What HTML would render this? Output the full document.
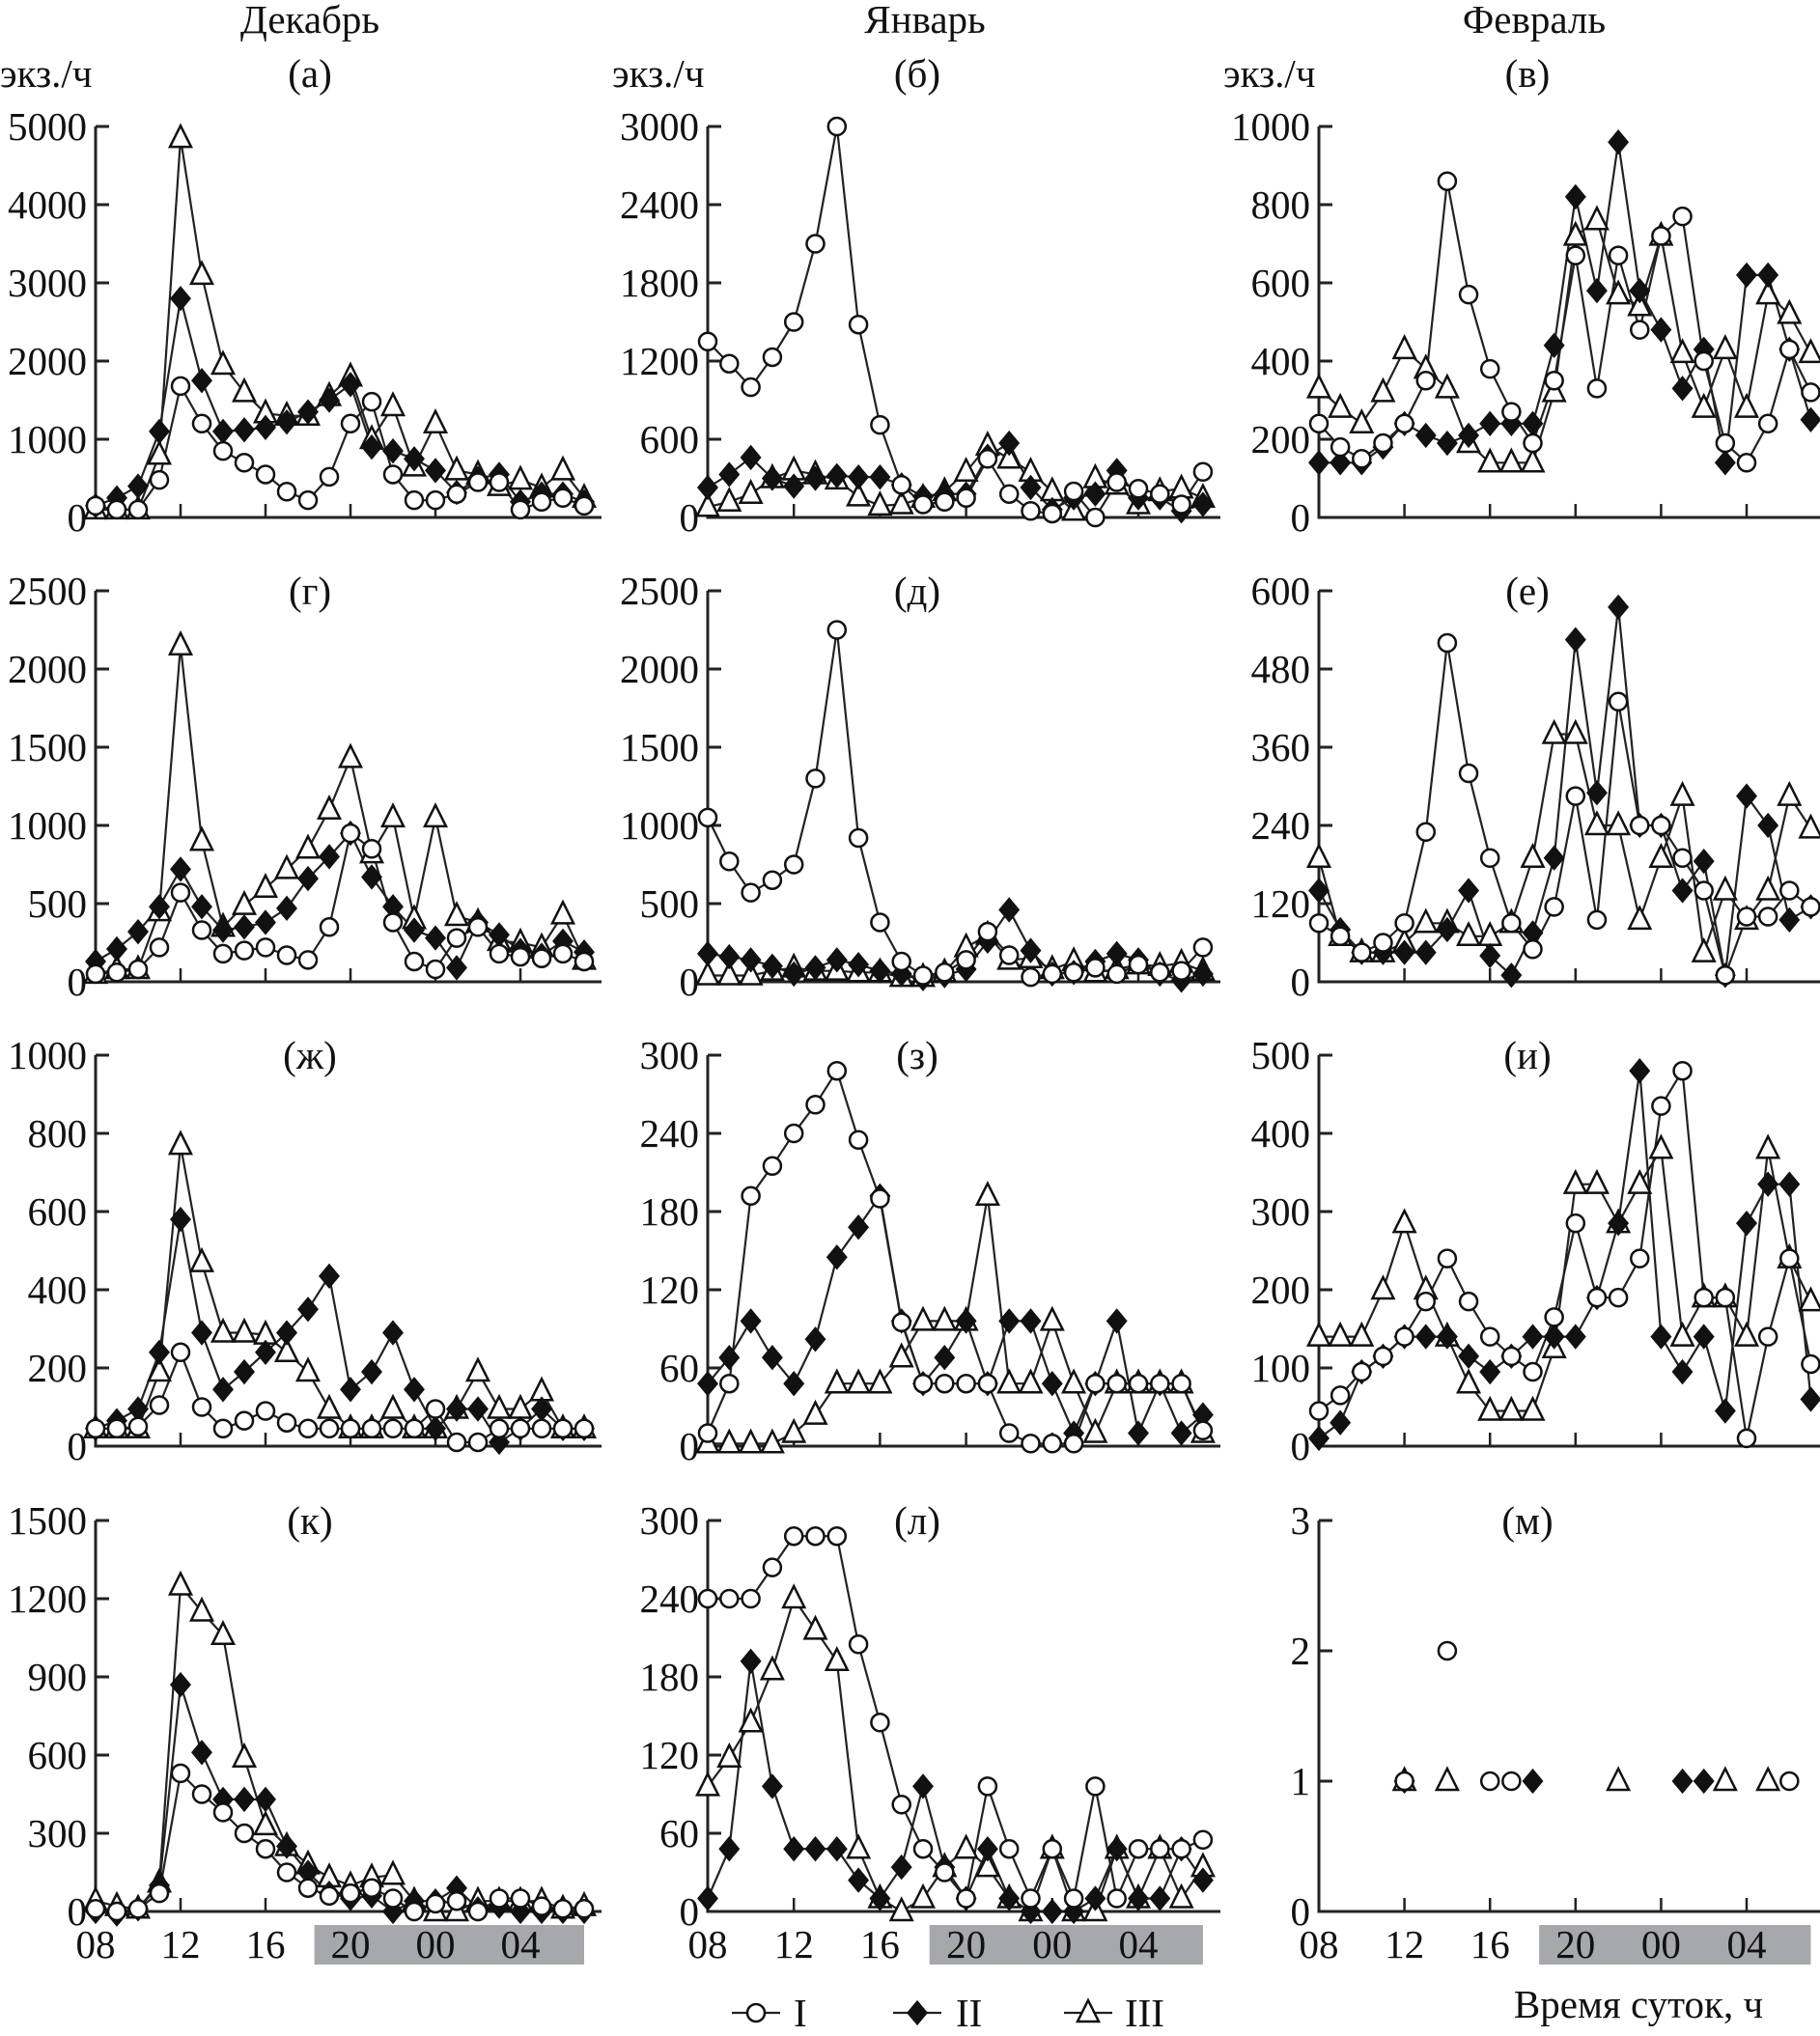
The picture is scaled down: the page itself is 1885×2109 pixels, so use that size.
<!DOCTYPE html>
<html><head><meta charset="utf-8"><style>
html,body{margin:0;padding:0;background:#fff;}
svg{display:block;font-family:"Liberation Serif",serif;}
</style></head><body>
<svg id="chart" width="1885" height="2109" viewBox="0 0 1885 2109" xmlns="http://www.w3.org/2000/svg"></svg>
<script>
const hours = ["08","09","10","11","12","13","14","15","16","17","18","19","20","21","22","23","00","01","02","03","04","05","06","07"];
const monthTitles = ["Декабрь","Январь","Февраль"];
const panelLabels = ["(а)","(б)","(в)","(г)","(д)","(е)","(ж)","(з)","(и)","(к)","(л)","(м)"];
const yMax = [5000,3000,1000,2500,2500,600,1000,300,500,1500,300,3];
const yStep = [1000,600,200,500,500,120,200,60,100,300,60,1];
const xTickLabels = ["08","12","16","20","00","04"];
const seriesNames = ["I","II","III"];
const N = null;
// panel a
const aI=[150,100,100,480,1680,1200,850,700,550,330,220,520,1200,1480,550,220,220,300,450,450,100,200,250,150];
const aII=[150,250,400,1100,2800,1750,1100,1120,1150,1220,1350,1500,1700,900,850,750,600,320,500,550,200,300,300,200];
const aIII=[100,100,100,800,4850,3100,1950,1600,1330,1300,1300,1550,1800,1000,1420,650,1200,600,550,400,480,380,600,250];
// panel b
const bI=[1350,1180,1000,1230,1500,2100,3000,1480,710,250,100,120,150,450,180,50,30,200,0,270,220,180,100,350];
const bII=[230,330,460,300,240,300,320,310,310,250,160,180,180,470,570,230,60,150,180,360,150,150,50,100];
const bIII=[80,120,180,300,360,330,290,160,90,100,150,200,350,550,450,350,200,50,300,250,100,200,220,150];
// panel v
const vI=[240,180,150,190,240,350,860,570,380,270,190,350,670,330,670,480,720,770,400,190,140,240,430,320];
const vII=[140,140,140,180,240,210,190,210,240,240,240,440,820,580,960,580,480,330,430,140,620,620,430,250];
const vIII=[330,280,240,320,430,380,330,190,140,140,140,320,720,760,570,540,720,420,280,430,280,570,520,420];
// panel g
const gI=[50,60,80,220,570,330,180,200,220,170,140,350,950,850,380,130,80,280,350,180,160,150,180,130];
const gII=[130,210,320,480,720,480,330,350,380,470,660,800,950,670,480,330,280,90,380,300,200,170,260,190];
const gIII=[50,80,80,450,2150,900,350,490,600,720,850,1100,1430,820,1050,400,1050,420,380,260,250,220,430,140];
// panel d
const dI=[1050,770,570,650,750,1300,2250,920,380,130,40,60,140,320,170,30,50,60,90,50,110,60,70,220];
const dII=[180,160,140,100,50,90,140,110,70,50,20,40,80,260,460,200,50,60,130,180,140,50,10,50];
const dIII=[40,40,40,70,90,70,70,60,60,30,30,60,220,300,140,150,80,130,60,80,110,100,120,70];
// panel e
const eI=[90,70,45,60,90,230,520,320,190,90,50,115,285,95,430,240,240,190,140,10,100,100,140,115];
const eII=[140,80,45,45,45,45,80,140,40,10,75,190,525,290,575,240,240,140,185,10,285,240,95,115];
const eIII=[190,70,45,45,60,90,90,70,70,90,190,380,380,240,240,95,190,285,45,140,95,140,285,235];
// panel zh
const zhI=[45,45,50,105,240,100,45,65,90,60,45,45,45,45,45,45,95,10,10,45,45,45,45,45];
const zhII=[45,65,95,240,580,290,145,190,240,290,350,435,145,190,290,145,45,95,95,10,45,95,45,45];
const zhIII=[45,45,45,190,770,470,290,290,285,240,190,95,45,45,95,45,45,95,190,95,95,140,45,45];
// panel z
const zI=[10,48,192,215,240,262,288,235,190,95,48,48,48,48,10,2,2,2,48,48,48,48,48,12];
const zII=[48,68,96,68,48,82,145,168,192,96,48,68,96,48,96,96,48,10,48,96,10,48,10,24];
const zIII=[2,2,2,2,10,24,48,48,48,68,96,96,96,192,48,48,96,48,10,48,48,48,48,10];
// panel i
const iI=[45,65,95,115,140,185,240,185,140,115,95,165,285,190,190,240,435,480,190,190,10,140,240,105];
const iII=[10,30,95,115,140,140,140,115,95,115,140,140,140,190,285,480,140,95,140,45,285,335,335,60];
const iIII=[140,140,140,200,285,200,140,80,45,45,45,125,335,335,285,335,380,140,190,190,140,380,240,185];
// panel k
const kI=[10,0,10,70,530,450,380,300,240,150,90,60,70,90,50,0,30,40,0,50,50,20,10,10];
const kII=[0,-10,10,100,870,610,430,430,430,250,150,70,50,60,0,40,40,90,10,20,0,0,0,0];
const kIII=[40,20,10,110,1250,1150,1060,590,330,250,180,130,100,130,140,40,0,0,40,40,40,40,10,20];
// panel l
const lI=[240,240,240,264,288,288,288,205,145,82,48,30,10,96,48,10,48,10,96,10,48,48,48,55];
const lII=[10,48,192,96,48,48,48,24,10,34,96,34,10,48,10,0,0,0,10,48,10,10,48,24];
const lIII=[96,118,145,185,240,216,192,48,10,0,10,34,48,34,10,0,48,0,0,48,10,48,10,34];
// panel m (points only)
const mI=[N,N,N,N,1,N,2,N,1,1,N,N,N,N,N,N,N,N,N,N,N,N,1,N];
const mII=[N,N,N,N,1,N,N,N,N,N,1,N,N,N,N,N,N,1,1,N,N,N,N,N];
const mIII=[N,N,N,N,1,N,1,N,N,N,N,N,N,N,1,N,N,N,N,1,N,1,N,N];

const panelData=[[aI,aII,aIII],[bI,bII,bIII],[vI,vII,vIII],[gI,gII,gIII],[dI,dII,dIII],[eI,eII,eIII],[zhI,zhII,zhIII],[zI,zII,zIII],[iI,iII,iIII],[kI,kII,kIII],[lI,lII,lIII],[mI,mII,mIII]];

const NS="http://www.w3.org/2000/svg";
const svg=document.getElementById('chart');
function mk(tag,attrs,parent){const e=document.createElementNS(NS,tag);for(const k in attrs)e.setAttribute(k,attrs[k]);(parent||svg).appendChild(e);return e;}

const colX0=[99,733,1366], colDx=[22,22.3,22.15], colEnd=[623,1264,1885];
const rowZero=[536,1017,1498,1980], plotH=405;
const titleX=[321,958,1589], labelX=[321,950,1582];
const FS=41;

monthTitles.forEach((t,c)=>{
  const e=mk('text',{x:titleX[c],y:34,'font-size':FS,'text-anchor':'middle',fill:'#111'});
  e.textContent=t;
  
  
  const u=mk('text',{x:colX0[c]-99,y:90,'font-size':FS,fill:'#111'});
  u.textContent='экз./ч';
  
  
});

function drawMarker(g,s,x,y){
  let m;
  if(s===0){m=mk('circle',{cx:x,cy:y,r:9,fill:'#fff',stroke:'#111','stroke-width':2.5},g);}
  else if(s===1){m=mk('polygon',{points:`${x},${y-12} ${x+10},${y} ${x},${y+12} ${x-10},${y}`,fill:'#111',stroke:'#111','stroke-width':1.5},g);}
  else {m=mk('polygon',{points:`${x},${y-13} ${x+11},${y+9} ${x-11},${y+9}`,fill:'#fff',stroke:'#111','stroke-width':2.5},g);}
  return m;
}

for(let p=0;p<12;p++){
  const r=Math.floor(p/3), c=p%3;
  const x0=colX0[c], dx=colDx[c], y0=rowZero[r];
  const xs=i=>x0+i*dx;
  const ys=v=>y0-v/yMax[p]*plotH;
  const g=mk('g',{});
  
  
  mk('path',{d:`M${x0},${y0-plotH} V${y0} H${colEnd[c]}`,fill:'none',stroke:'#222','stroke-width':3},g);
  for(let v=0;v<=yMax[p]+1e-9;v+=yStep[p]){
    const y=ys(v);
    mk('line',{x1:x0,y1:y,x2:x0+14,y2:y,stroke:'#222','stroke-width':3},g);
    const t=mk('text',{x:x0-9,y:y+14,'font-size':FS,'text-anchor':'end',fill:'#111'},g);
    t.textContent=String(Math.round(v*100)/100);
    
    
  }
  for(let k=1;k<6;k++){
    const x=xs(k*4);
    mk('line',{x1:x,y1:y0,x2:x,y2:y0-14,stroke:'#222','stroke-width':2.5},g);
  }
  const pl=mk('text',{x:labelX[c],y:(r===0?90:y0-plotH+14),'font-size':FS,'text-anchor':'middle',fill:'#111'},g);
  pl.textContent=panelLabels[p];
  
  
  const data=panelData[p];
  for(let s=0;s<3;s++){
    const sg=mk('g',{},g);
    
    
    if(p!==11){
      const pts=data[s].map((v,i)=>`${xs(i).toFixed(1)},${ys(v).toFixed(1)}`).join(' ');
      const ln=mk('polyline',{points:pts,fill:'none',stroke:'#222','stroke-width':2.2},sg);
      
      
    }
  }
  for(let s=2;s>=0;s--){
    data[s].forEach((v,i)=>{
      if(v===null)return;
      const m=drawMarker(g,s,xs(i),ys(v));
      
      
    });
  }
  if(r===3){
    const barStart=xs(10.3), barEnd=xs(23);
    const bar=mk('rect',{x:barStart,y:1994,width:barEnd-barStart,height:41,fill:'#a7a8ab'},g);
    
    
    xTickLabels.forEach((lab,k)=>{
      const t=mk('text',{x:xs(k*4),y:2028,'font-size':FS,'text-anchor':'middle',fill:'#111'},g);
      t.textContent=lab;
      
      
    });
  }
}

const xt=mk('text',{x:1697,y:2090,'font-size':FS,'text-anchor':'middle',fill:'#111'});
xt.textContent='Время суток, ч';



const legX=[783,950,1127], legTx=[822,990,1165];
seriesNames.forEach((n,s)=>{
  const lg=mk('g',{});
  
  
  mk('line',{x1:legX[s]-25,y1:2085,x2:legX[s]+25,y2:2085,stroke:'#222','stroke-width':2.2},lg);
  drawMarker(lg,s,legX[s],2085);
  const t=mk('text',{x:legTx[s],y:2099,'font-size':FS,fill:'#111'},lg);
  t.textContent=n;
});
</script>
</body></html>
